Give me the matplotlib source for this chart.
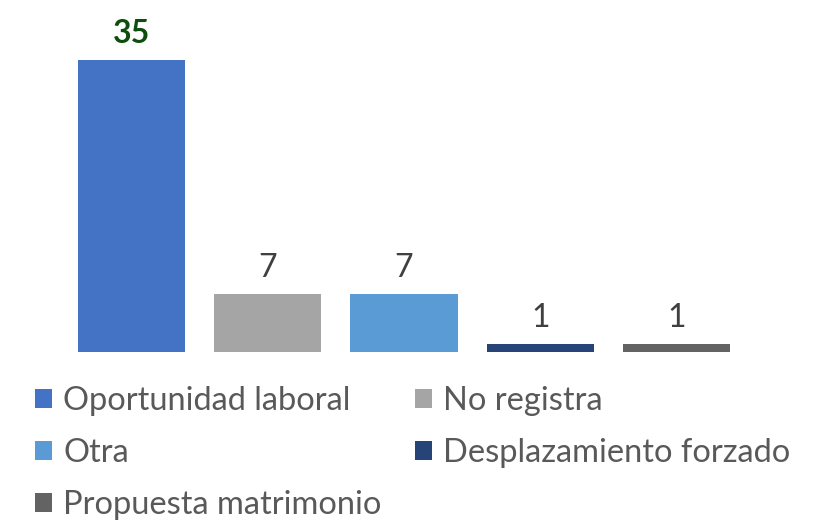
import matplotlib
matplotlib.use("Agg")
import matplotlib.pyplot as plt
from matplotlib.patches import Patch

categories = ["Oportunidad laboral", "No registra", "Otra", "Desplazamiento forzado", "Propuesta matrimonio"]
values = [35, 7, 7, 1, 1]
colors = ["#4472C4", "#A5A5A5", "#5B9BD5", "#264478", "#636363"]
label_colors = ["#0D4D0D", "#404040", "#404040", "#404040", "#404040"]
label_weights = ["bold", "normal", "normal", "normal", "normal"]

plt.rcParams['font.family'] = ['Lato', 'DejaVu Sans']

fig = plt.figure(figsize=(8.18, 5.22), dpi=100)
ax = fig.add_axes([63/818, 1 - 352/522, (745 - 63)/818, (352 - 18.3)/522])

x = list(range(len(categories)))
bars = ax.bar(x, values, width=0.785, color=colors)
ax.set_xlim(-0.5, 4.5)
ax.set_ylim(0, 40)
ax.axis('off')

for xi, v, c, w in zip(x, values, label_colors, label_weights):
    ax.annotate(str(v), (xi, v), xytext=(0, 12), textcoords='offset points',
                ha='center', va='baseline', fontsize=23, color=c, fontweight=w)

handles = [Patch(facecolor=col, edgecolor='none') for col in colors]
order = [0, 2, 4, 1, 3]
leg = fig.legend([handles[i] for i in order], [categories[i] for i in order],
                 ncol=2, loc='upper left', bbox_to_anchor=(35/818, 1 - 386/522),
                 frameon=False, fontsize=23.5, labelcolor='#595959',
                 handlelength=0.52, handleheight=0.52, handletextpad=0.34,
                 columnspacing=1.04, labelspacing=0.67, borderaxespad=0, borderpad=0)

fig.savefig("out.png", dpi=100)
